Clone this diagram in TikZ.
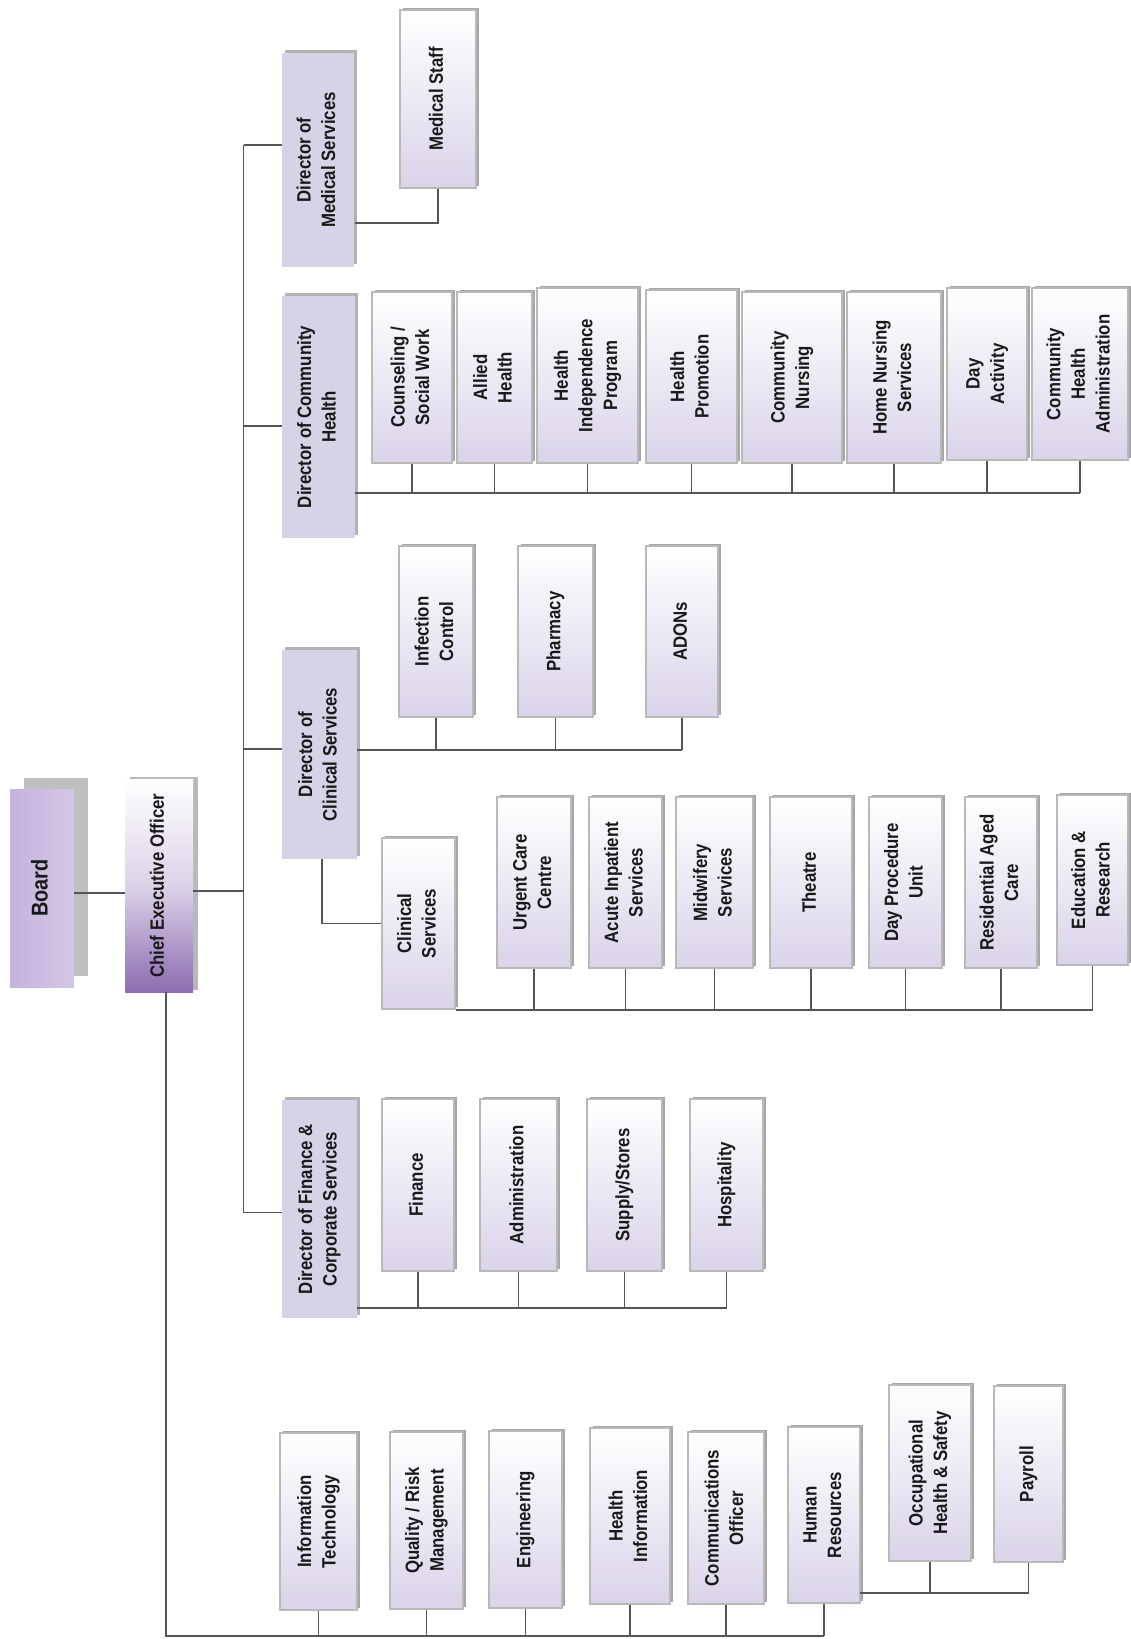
\documentclass[tikz,border=0pt]{standalone}
\usepackage{fontspec}
\setmainfont{Liberation Sans}[FakeStretch=0.87]
\usetikzlibrary{shadows}

\definecolor{lav}{RGB}{216,210,230}
\definecolor{lavlow}{RGB}{218,211,233}
\definecolor{boardc}{RGB}{196,180,221}
\definecolor{ceoc}{RGB}{140,108,178}
\definecolor{linec}{RGB}{85,85,85}

\newcommand{\vtext}[1]{\rotatebox{90}{\begin{tabular}{@{}c@{}}#1\end{tabular}}}

\tikzset{
  wh/.style 2 args={minimum width=#1*0.02cm, minimum height=#2*0.02cm},
  base/.style={inner sep=0pt, text=black!90, font=\fontsize{11}{14}\selectfont\bfseries},
  unit/.style={base, draw=gray!55, line width=0.9pt, top color=white, bottom color=lavlow,
    general shadow={fill=gray!70, shadow xshift=1.8pt, shadow yshift=1.2pt}},
  director/.style={base, fill=lav, general shadow={fill=gray!60, shadow xshift=1.6pt, shadow yshift=1.6pt}},
  board/.style={base, font=\fontsize{13}{16}\selectfont\bfseries, left color=boardc, right color=boardc!75!white,
    general shadow={fill=gray!50, shadow xshift=8pt, shadow yshift=6pt}},
  ceo/.style={base, top color=white, bottom color=ceoc, middle color=ceoc!30!white,
    general shadow={fill=gray!55, shadow xshift=3pt, shadow yshift=1pt}},
  link/.style={draw=linec, line width=1pt},
}

\begin{document}
\begin{tikzpicture}[x=0.02cm, y=-0.02cm]
\useasboundingbox (0,0) rectangle (1131,1639);
% top of the chart
\node[board, wh={64}{198}] (board) at (42,888) {\vtext{Board}};
\node[ceo, wh={68}{213}] (ceo) at (159,885.5) {\vtext{Chief Executive Officer}};
% directors
\node[director, wh={72}{214}] (dms) at (318,160) {\vtext{Director of\\Medical Services}};
\node[director, wh={73}{242}] (dch) at (318.5,417) {\vtext{Director of Community\\Health}};
\node[director, wh={75}{209}] (dcs) at (319.5,754.5) {\vtext{Director of\\Clinical Services}};
\node[director, wh={75}{218}] (dfcs) at (319.5,1209) {\vtext{Director of Finance \&\\Corporate Services}};
% medical services
\node[unit, wh={76}{178}] (medstaff) at (438,99) {\vtext{Medical Staff}};
% community health
\node[unit, wh={80}{171}] (counsel) at (412,377.5) {\vtext{Counseling /\\Social Work}};
\node[unit, wh={75}{171}] (allied) at (494.5,377.5) {\vtext{Allied\\Health}};
\node[unit, wh={101}{175}] (hip) at (587.5,375.5) {\vtext{Health\\Independence\\Program}};
\node[unit, wh={91}{173}] (promo) at (691.5,376.5) {\vtext{Health\\Promotion}};
\node[unit, wh={100}{171}] (cnursing) at (792,377.5) {\vtext{Community\\Nursing}};
\node[unit, wh={94}{171}] (hnursing) at (894,377.5) {\vtext{Home Nursing\\Services}};
\node[unit, wh={80}{172}] (dayact) at (987,374) {\vtext{Day\\Activity}};
\node[unit, wh={96}{172}] (chadmin) at (1080,374) {\vtext{Community\\Health\\Administration}};
% clinical services
\node[unit, wh={74}{171}] (infect) at (436,631.5) {\vtext{Infection\\Control}};
\node[unit, wh={75}{171}] (pharm) at (555.5,631.5) {\vtext{Pharmacy}};
\node[unit, wh={72}{171}] (adons) at (682,631.5) {\vtext{ADONs}};
\node[unit, wh={73}{171}] (clinserv) at (418.5,923.5) {\vtext{Clinical\\Services}};
\node[unit, wh={74}{171}] (urgent) at (534,882.5) {\vtext{Urgent Care\\Centre}};
\node[unit, wh={73}{171}] (acute) at (625.5,882.5) {\vtext{Acute Inpatient\\Services}};
\node[unit, wh={77}{171}] (midwife) at (714.5,882.5) {\vtext{Midwifery\\Services}};
\node[unit, wh={82}{171}] (theatre) at (811,882.5) {\vtext{Theatre}};
\node[unit, wh={73}{171}] (dpu) at (905.5,882.5) {\vtext{Day Procedure\\Unit}};
\node[unit, wh={72}{171}] (rac) at (1001,882.5) {\vtext{Residential Aged\\Care}};
\node[unit, wh={71}{170}] (edres) at (1092.5,880) {\vtext{Education \&\\Research}};
% finance and corporate
\node[unit, wh={72}{172}] (finance) at (418,1185) {\vtext{Finance}};
\node[unit, wh={77}{172}] (admin) at (518.5,1185) {\vtext{Administration}};
\node[unit, wh={75}{172}] (supply) at (624.5,1185) {\vtext{Supply/Stores}};
\node[unit, wh={73}{172}] (hosp) at (726.5,1185) {\vtext{Hospitality}};
% reporting straight to the CEO
\node[unit, wh={77}{177}] (it) at (318.5,1521.5) {\vtext{Information\\Technology}};
\node[unit, wh={73}{177}] (qrm) at (426.5,1520.5) {\vtext{Quality / Risk\\Management}};
\node[unit, wh={73}{177}] (eng) at (525.5,1519.5) {\vtext{Engineering}};
\node[unit, wh={80}{176}] (hinfo) at (630,1516) {\vtext{Health\\Information}};
\node[unit, wh={76}{172}] (comms) at (726,1518) {\vtext{Communications\\Officer}};
\node[unit, wh={72}{176}] (hr) at (824,1515) {\vtext{Human\\Resources}};
\node[unit, wh={82}{176}] (ohs) at (930,1473) {\vtext{Occupational\\Health \& Safety}};
\node[unit, wh={69}{176}] (payroll) at (1028.5,1474) {\vtext{Payroll}};

% connectors
\coordinate (trunk) at (243.5,891);
\draw[link] ([yshift=-3pt]board.east) -- ([yshift=-3pt]board.east -| ceo.west);
\draw[link] ([yshift=-3pt]ceo.east) -- ([yshift=-3pt]ceo.east -| trunk);
\draw[link] ([yshift=8.5pt]trunk |- dms.west) -- ([yshift=-2pt]trunk |- dfcs.west);
\foreach \d/\s in {dms/8.5pt,dch/-5pt,dcs/3pt,dfcs/-2pt}
  \draw[link] ([yshift=\s]trunk |- \d.west) -- ([yshift=\s]\d.west);
\coordinate (msj) at (355,223);
\draw[link] (msj) -| (medstaff.south);
\coordinate (chbus) at (355,493);
\draw[link] (chbus) -- (chbus -| chadmin.south);
\foreach \n in {counsel,allied,hip,promo,cnursing,hnursing,dayact,chadmin}
  \draw[link] (\n.south) -- (\n.south |- chbus);
\coordinate (csbus) at (357,750);
\draw[link] (csbus) -- (csbus -| adons.south);
\foreach \n in {infect,pharm,adons} \draw[link] (\n.south) -- (\n.south |- csbus);
\coordinate (csdrop) at (322,859);
\draw[link] (csdrop) |- (clinserv.west);
\draw[link] (clinserv.south east) -- (clinserv.south east -| edres.south);
\foreach \n in {urgent,acute,midwife,theatre,dpu,rac,edres}
  \draw[link] (\n.south) -- (\n.south |- clinserv.south east);
\coordinate (fbus) at (357,1308);
\draw[link] (fbus) -- (fbus -| hosp.south);
\foreach \n in {finance,admin,supply,hosp} \draw[link] (\n.south) -- (\n.south |- fbus);
\coordinate (cbot) at (166,1636);
\draw[link] (ceo.south -| cbot) -- (cbot) -- (cbot -| hr.south);
\foreach \n in {it,qrm,eng,hinfo,comms,hr} \draw[link] (\n.south) -- (\n.south |- cbot);
\coordinate (hrbus) at (860,1593);
\draw[link] (hrbus) -- (hrbus -| payroll.south);
\foreach \n in {ohs,payroll} \draw[link] (\n.south) -- (\n.south |- hrbus);
\end{tikzpicture}
\end{document}
